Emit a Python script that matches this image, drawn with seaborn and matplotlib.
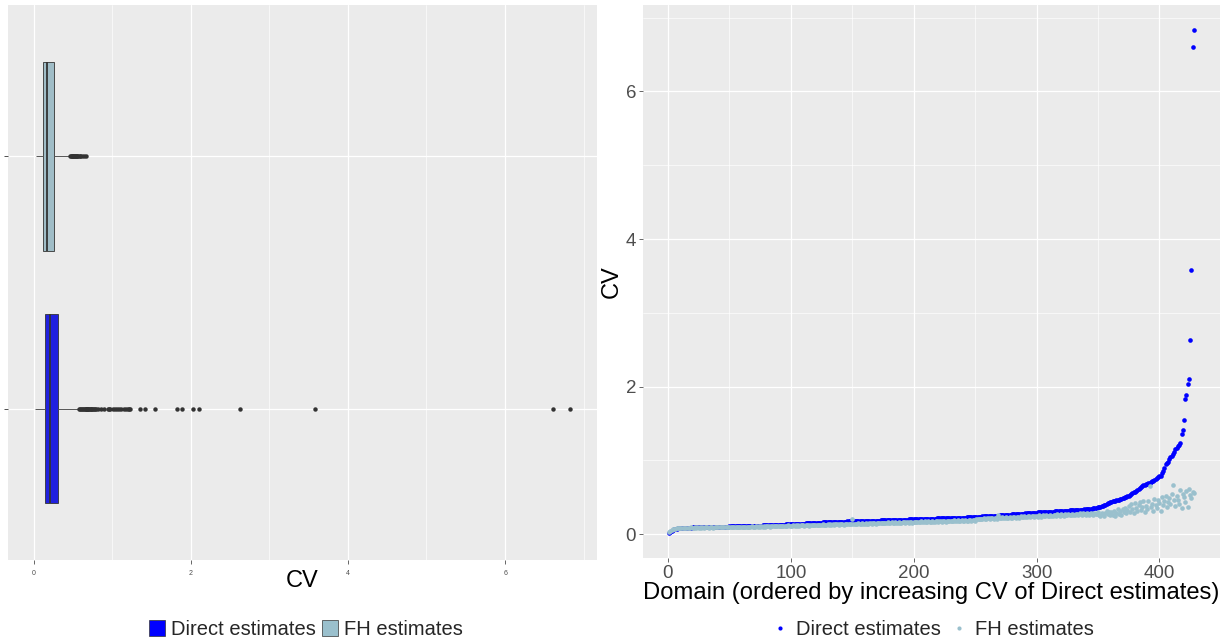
import numpy as np
import pandas as pd
import matplotlib
matplotlib.use("Agg")
import matplotlib.pyplot as plt
from matplotlib.patches import Patch
from matplotlib.lines import Line2D
from matplotlib.ticker import MultipleLocator
import seaborn as sns

# CV of the direct estimates, domains sorted by increasing direct CV
direct_cv = [
    0.014, 0.031, 0.045, 0.056, 0.064, 0.070, 0.074, 0.077, 0.080, 0.082,
    0.083, 0.084, 0.085, 0.086, 0.086, 0.087, 0.087, 0.088, 0.088, 0.089,
    0.089, 0.090, 0.090, 0.090, 0.091, 0.091, 0.092, 0.092, 0.092, 0.093,
    0.093, 0.094, 0.094, 0.095, 0.095, 0.095, 0.096, 0.096, 0.097, 0.097,
    0.098, 0.098, 0.098, 0.099, 0.099, 0.100, 0.100, 0.101, 0.101, 0.102,
    0.102, 0.103, 0.103, 0.104, 0.104, 0.105, 0.105, 0.106, 0.106, 0.107,
    0.107, 0.108, 0.108, 0.109, 0.109, 0.110, 0.110, 0.111, 0.111, 0.112,
    0.112, 0.113, 0.113, 0.114, 0.115, 0.115, 0.116, 0.117, 0.118, 0.119,
    0.120, 0.121, 0.122, 0.122, 0.123, 0.124, 0.125, 0.125, 0.126, 0.127,
    0.127, 0.128, 0.128, 0.129, 0.129, 0.130, 0.131, 0.131, 0.132, 0.133,
    0.134, 0.134, 0.135, 0.136, 0.137, 0.137, 0.138, 0.139, 0.140, 0.141,
    0.142, 0.143, 0.144, 0.145, 0.146, 0.147, 0.148, 0.149, 0.150, 0.151,
    0.152, 0.153, 0.154, 0.155, 0.156, 0.157, 0.158, 0.159, 0.160, 0.161,
    0.162, 0.162, 0.163, 0.164, 0.164, 0.165, 0.165, 0.166, 0.166, 0.167,
    0.167, 0.168, 0.168, 0.169, 0.169, 0.170, 0.170, 0.171, 0.171, 0.172,
    0.172, 0.173, 0.173, 0.174, 0.174, 0.175, 0.175, 0.176, 0.176, 0.177,
    0.177, 0.178, 0.178, 0.179, 0.179, 0.180, 0.180, 0.181, 0.181, 0.182,
    0.182, 0.183, 0.184, 0.184, 0.185, 0.185, 0.186, 0.187, 0.187, 0.188,
    0.188, 0.189, 0.190, 0.190, 0.191, 0.191, 0.192, 0.193, 0.193, 0.194,
    0.194, 0.195, 0.195, 0.196, 0.196, 0.197, 0.197, 0.198, 0.198, 0.199,
    0.200, 0.200, 0.201, 0.202, 0.202, 0.203, 0.204, 0.204, 0.205, 0.206,
    0.206, 0.207, 0.208, 0.208, 0.209, 0.209, 0.210, 0.210, 0.211, 0.211,
    0.212, 0.212, 0.213, 0.213, 0.214, 0.214, 0.215, 0.215, 0.216, 0.216,
    0.217, 0.217, 0.218, 0.218, 0.219, 0.219, 0.220, 0.220, 0.221, 0.222,
    0.223, 0.224, 0.225, 0.226, 0.227, 0.228, 0.229, 0.230, 0.231, 0.232,
    0.233, 0.234, 0.235, 0.236, 0.237, 0.238, 0.239, 0.240, 0.241, 0.242,
    0.243, 0.244, 0.245, 0.246, 0.247, 0.248, 0.249, 0.250, 0.251, 0.252,
    0.253, 0.254, 0.256, 0.257, 0.258, 0.260, 0.261, 0.262, 0.264, 0.265,
    0.266, 0.268, 0.269, 0.270, 0.272, 0.273, 0.274, 0.276, 0.277, 0.278,
    0.280, 0.281, 0.282, 0.284, 0.285, 0.286, 0.288, 0.289, 0.290, 0.291,
    0.292, 0.293, 0.294, 0.295, 0.296, 0.297, 0.298, 0.299, 0.300, 0.301,
    0.302, 0.303, 0.304, 0.305, 0.306, 0.307, 0.308, 0.309, 0.310, 0.311,
    0.312, 0.313, 0.314, 0.315, 0.316, 0.318, 0.319, 0.320, 0.321, 0.322,
    0.323, 0.325, 0.326, 0.327, 0.328, 0.330, 0.331, 0.332, 0.334, 0.336,
    0.338, 0.340, 0.342, 0.344, 0.346, 0.349, 0.352, 0.355, 0.358, 0.362,
    0.366, 0.371, 0.377, 0.384, 0.392, 0.400, 0.408, 0.416, 0.424, 0.431,
    0.437, 0.442, 0.447, 0.452, 0.457, 0.462, 0.467, 0.472, 0.477, 0.483,
    0.490, 0.497, 0.504, 0.511, 0.518, 0.527, 0.538, 0.553, 0.566, 0.576,
    0.586, 0.598, 0.612, 0.627, 0.641, 0.654, 0.663, 0.671, 0.678, 0.684,
    0.690, 0.697, 0.705, 0.714, 0.724, 0.734, 0.744, 0.757, 0.769, 0.780,
    0.792, 0.825, 0.857, 0.901, 0.947, 0.962, 0.972, 1.015, 1.041, 1.062,
    1.081, 1.112, 1.150, 1.172, 1.195, 1.213, 1.232, 1.353, 1.412, 1.547,
    1.828, 1.884, 2.030, 2.107, 2.625, 3.580, 6.610, 6.830,
]

# CV of the FH estimates, same domain order
fh_cv = [
    0.032, 0.046, 0.055, 0.063, 0.067, 0.072, 0.075, 0.079, 0.078, 0.082,
    0.084, 0.081, 0.086, 0.083, 0.088, 0.085, 0.087, 0.084, 0.089, 0.086,
    0.088, 0.091, 0.085, 0.089, 0.087, 0.092, 0.088, 0.090, 0.086, 0.091,
    0.089, 0.093, 0.087, 0.092, 0.090, 0.094, 0.088, 0.093, 0.091, 0.095,
    0.089, 0.094, 0.092, 0.096, 0.090, 0.095, 0.093, 0.097, 0.091, 0.096,
    0.094, 0.098, 0.092, 0.097, 0.095, 0.099, 0.093, 0.098, 0.096, 0.100,
    0.094, 0.099, 0.097, 0.101, 0.095, 0.100, 0.098, 0.102, 0.096, 0.101,
    0.099, 0.103, 0.097, 0.102, 0.100, 0.104, 0.098, 0.106, 0.101, 0.105,
    0.103, 0.108, 0.100, 0.107, 0.104, 0.110, 0.102, 0.109, 0.106, 0.112,
    0.104, 0.111, 0.108, 0.114, 0.105, 0.113, 0.110, 0.116, 0.107, 0.115,
    0.112, 0.118, 0.109, 0.117, 0.114, 0.120, 0.111, 0.119, 0.116, 0.122,
    0.113, 0.121, 0.118, 0.124, 0.115, 0.123, 0.120, 0.126, 0.117, 0.125,
    0.122, 0.128, 0.119, 0.127, 0.124, 0.130, 0.121, 0.129, 0.126, 0.132,
    0.123, 0.131, 0.128, 0.134, 0.125, 0.133, 0.130, 0.136, 0.127, 0.135,
    0.132, 0.138, 0.129, 0.137, 0.134, 0.140, 0.131, 0.139, 0.136, 0.198,
    0.138, 0.133, 0.141, 0.136, 0.143, 0.139, 0.134, 0.145, 0.140, 0.137,
    0.146, 0.142, 0.138, 0.148, 0.143, 0.140, 0.150, 0.145, 0.141, 0.152,
    0.147, 0.143, 0.153, 0.148, 0.144, 0.155, 0.150, 0.146, 0.157, 0.151,
    0.147, 0.158, 0.153, 0.149, 0.160, 0.154, 0.150, 0.161, 0.156, 0.152,
    0.163, 0.157, 0.153, 0.164, 0.159, 0.155, 0.166, 0.160, 0.156, 0.167,
    0.161, 0.157, 0.169, 0.163, 0.158, 0.170, 0.164, 0.160, 0.172, 0.166,
    0.161, 0.173, 0.167, 0.162, 0.175, 0.169, 0.164, 0.176, 0.170, 0.165,
    0.178, 0.172, 0.167, 0.179, 0.173, 0.168, 0.181, 0.175, 0.170, 0.182,
    0.176, 0.171, 0.184, 0.178, 0.173, 0.185, 0.179, 0.174, 0.187, 0.181,
    0.176, 0.188, 0.182, 0.177, 0.190, 0.184, 0.179, 0.191, 0.185, 0.180,
    0.208, 0.202, 0.197, 0.210, 0.203, 0.198, 0.212, 0.205, 0.200, 0.213,
    0.212, 0.206, 0.220, 0.213, 0.208, 0.222, 0.215, 0.209, 0.262, 0.217,
    0.213, 0.227, 0.220, 0.214, 0.229, 0.222, 0.216, 0.231, 0.223, 0.217,
    0.236, 0.228, 0.222, 0.237, 0.230, 0.223, 0.239, 0.231, 0.225, 0.241,
    0.236, 0.229, 0.246, 0.238, 0.231, 0.247, 0.239, 0.232, 0.249, 0.241,
    0.236, 0.253, 0.244, 0.237, 0.255, 0.246, 0.239, 0.257, 0.248, 0.240,
    0.261, 0.251, 0.244, 0.263, 0.253, 0.245, 0.265, 0.255, 0.247, 0.267,
    0.258, 0.250, 0.271, 0.260, 0.252, 0.273, 0.262, 0.253, 0.275, 0.263,
    0.256, 0.278, 0.266, 0.257, 0.280, 0.268, 0.259, 0.282, 0.270, 0.261,
    0.284, 0.271, 0.262, 0.287, 0.273, 0.264, 0.290, 0.276, 0.267, 0.293,
    0.262, 0.251, 0.291, 0.266, 0.248, 0.284, 0.310, 0.270, 0.292, 0.258,
    0.296, 0.263, 0.318, 0.251, 0.287, 0.334, 0.272, 0.309, 0.258, 0.341,
    0.292, 0.356, 0.279, 0.322, 0.374, 0.301, 0.402, 0.337, 0.286, 0.418,
    0.349, 0.311, 0.392, 0.428, 0.324, 0.371, 0.452, 0.297, 0.383, 0.336,
    0.441, 0.645, 0.362, 0.409, 0.318, 0.476, 0.395, 0.351, 0.463, 0.421,
    0.309, 0.498, 0.387, 0.444, 0.512, 0.366, 0.431, 0.485, 0.402, 0.538,
    0.664, 0.457, 0.376, 0.521, 0.468, 0.413, 0.596, 0.347, 0.549, 0.502,
    0.438, 0.587, 0.365, 0.614, 0.532, 0.491, 0.568, 0.553,
]

labels = ["Direct estimates", "FH estimates"]
colors = {"Direct estimates": "#0000FF", "FH estimates": "#9AC0CD"}

domain = np.arange(1, len(direct_cv) + 1)

df_box = pd.DataFrame({
    "CV": direct_cv + fh_cv,
    "method": [labels[0]] * len(direct_cv) + [labels[1]] * len(fh_cv),
})

sns.set_style("darkgrid", {"axes.facecolor": "#EBEBEB", "grid.color": "white"})
plt.rcParams["font.family"] = ["Liberation Sans", "DejaVu Sans"]

fig = plt.figure(figsize=(12.28, 6.43), dpi=100)
ax1 = fig.add_axes([0.0065, 0.129, 0.4797, 0.863])
ax2 = fig.add_axes([0.5236, 0.132, 0.4699, 0.86])

# left: boxplots
sns.boxplot(data=df_box, x="CV", y="method", hue="method", palette=colors,
            order=[labels[1], labels[0]], width=0.75, linecolor="#333333",
            linewidth=0.6, legend=False, showcaps=False, ax=ax1,
            medianprops=dict(color="#333333", linewidth=1.3),
            whiskerprops=dict(color="#555555", linewidth=0.7),
            flierprops=dict(marker="o", markersize=3.2, markerfacecolor="#333333",
                            markeredgecolor="none"))

def gg_lim(vals):
    lo, hi = min(vals), max(vals)
    pad = 0.05 * (hi - lo)
    return lo - pad, hi + pad

ax1.set_xlim(*gg_lim(direct_cv + fh_cv))
ax1.set_ylim(1.6, -0.6)
ax1.xaxis.set_major_locator(MultipleLocator(2))
ax1.xaxis.set_minor_locator(MultipleLocator(1))
ax1.grid(which="major", color="white", linewidth=0.9)
ax1.grid(which="minor", axis="x", color="white", linewidth=0.45)
ax1.set_yticklabels([])
ax1.set_ylabel("")
ax1.set_xlabel("CV", fontsize=17, color="black", labelpad=-5)
ax1.tick_params(axis="x", labelsize=5, colors="#4D4D4D", length=3, width=0.6,
                pad=4, bottom=True)
ax1.tick_params(axis="y", length=3, width=0.6, colors="#333333", left=True)
ax1.tick_params(which="minor", length=0)

# right: scatter by domain
sns.scatterplot(x=domain, y=direct_cv, color=colors[labels[0]], s=11,
                linewidth=0, ax=ax2)
sns.scatterplot(x=domain, y=fh_cv, color=colors[labels[1]], s=11,
                linewidth=0, ax=ax2)
ax2.set_xlim(*gg_lim(list(domain)))
ax2.set_ylim(*gg_lim(direct_cv + fh_cv))
ax2.xaxis.set_major_locator(MultipleLocator(100))
ax2.xaxis.set_minor_locator(MultipleLocator(50))
ax2.yaxis.set_major_locator(MultipleLocator(2))
ax2.yaxis.set_minor_locator(MultipleLocator(1))
ax2.grid(which="major", color="white", linewidth=0.9)
ax2.grid(which="minor", color="white", linewidth=0.45)
ax2.set_xlabel("Domain (ordered by increasing CV of Direct estimates)",
               fontsize=17.1, color="black", labelpad=0)
ax2.set_ylabel("CV", fontsize=17, color="black", labelpad=2)
ax2.tick_params(labelsize=13.5, colors="#4D4D4D", length=3, width=0.6, pad=2,
                bottom=True, left=True)
ax2.tick_params(which="minor", length=0)

for ax in (ax1, ax2):
    for s in ax.spines.values():
        s.set_visible(False)

box_handles = [Patch(facecolor=colors[l], edgecolor="#333333", linewidth=0.5)
               for l in labels]
fig.legend(box_handles, labels, loc="center", bbox_to_anchor=(0.249, 0.021),
           ncol=2, frameon=False, fontsize=14.5, handlelength=0.8,
           handleheight=0.8, handletextpad=0.3, columnspacing=0.3)

pt_handles = [Line2D([], [], linestyle="none", marker="o", markersize=3,
                     markerfacecolor=colors[l], markeredgecolor="none")
              for l in labels]
fig.legend(pt_handles, labels, loc="center", bbox_to_anchor=(0.759, 0.021),
           ncol=2, frameon=False, fontsize=14.5, handlelength=1.0,
           handletextpad=0.3, columnspacing=0.4)

fig.savefig("out.png", dpi=100, facecolor="white")
